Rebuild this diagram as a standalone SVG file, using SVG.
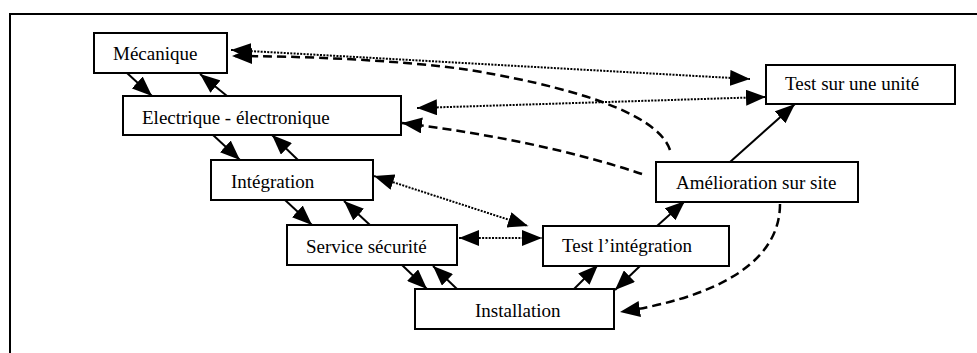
<svg xmlns="http://www.w3.org/2000/svg" width="977" height="353" viewBox="0 0 977 353">
<style>
.box{fill:#fff;stroke:#000;stroke-width:2}
.lbl{font-family:'Liberation Serif','Times New Roman',serif;font-size:19px;fill:#000}
.solid{fill:none;stroke:#000;stroke-width:2}
.dot{fill:none;stroke:#000;stroke-width:2;stroke-dasharray:2 1.3}
.dash{fill:none;stroke:#000;stroke-width:2.5;stroke-dasharray:9 5}
</style>
<defs>
<marker id="ah" markerUnits="userSpaceOnUse" markerWidth="21" markerHeight="16" refX="20" refY="8" orient="auto-start-reverse">
<path d="M0,0 L20,8 L0,16 z" fill="#000"/>
</marker>
</defs>
<rect width="977" height="353" fill="#fff"/>
<path d="M10,353 L10,14 L977,14" fill="none" stroke="#000" stroke-width="2"/>

<g id="connectors">
<path class="solid" d="M127,73 L152,96" marker-end="url(#ah)"/>
<path class="solid" d="M227,96 L200,74" marker-end="url(#ah)"/>
<path class="solid" d="M213,135 L240,160" marker-end="url(#ah)"/>
<path class="solid" d="M298,160 L272,135" marker-end="url(#ah)"/>
<path class="solid" d="M285,200 L312,225" marker-end="url(#ah)"/>
<path class="solid" d="M370,225 L344,201" marker-end="url(#ah)"/>
<path class="solid" d="M402,265 L427,289" marker-end="url(#ah)"/>
<path class="solid" d="M457,289 L433,266" marker-end="url(#ah)"/>
<path class="solid" d="M573,290 L598,265" marker-end="url(#ah)"/>
<path class="solid" d="M640,266 L615,290" marker-end="url(#ah)"/>
<path class="solid" d="M657,226 L685,201" marker-end="url(#ah)"/>
<path class="solid" d="M730,162 L795,104" marker-end="url(#ah)"/>
<path class="dot" d="M231,50 L750,79" marker-start="url(#ah)" marker-end="url(#ah)"/>
<path class="dot" d="M417,108 L766,97" marker-start="url(#ah)" marker-end="url(#ah)"/>
<path class="dot" d="M374,176 L528,226" marker-start="url(#ah)" marker-end="url(#ah)"/>
<path class="dot" d="M459,238 L542,238" marker-start="url(#ah)" marker-end="url(#ah)"/>
<path class="dash" d="M670,150 C660,120 600,92 470,70 C400,60 300,56 232,56" marker-end="url(#ah)"/>
<path class="dash" d="M642,174 Q540,140 402,123" marker-end="url(#ah)"/>
<path class="dash" d="M780,204 C780,270 700,300 620,312" marker-end="url(#ah)"/>
</g>

<g id="mecanique">
<rect class="box" x="94" y="33" width="133" height="40"/>
<text class="lbl" x="113" y="60">Mécanique</text>
</g>
<g id="electrique">
<rect class="box" x="123" y="96" width="278" height="39"/>
<text class="lbl" x="142" y="124">Electrique - électronique</text>
</g>
<g id="integration">
<rect class="box" x="211" y="160" width="162" height="40"/>
<text class="lbl" x="231" y="188">Intégration</text>
</g>
<g id="service">
<rect class="box" x="287" y="225" width="170" height="40"/>
<text class="lbl" x="306" y="253">Service sécurité</text>
</g>
<g id="installation">
<rect class="box" x="415" y="289" width="199" height="40"/>
<text class="lbl" x="475" y="317">Installation</text>
</g>
<g id="test-integration">
<rect class="box" x="543" y="226" width="186" height="40"/>
<text class="lbl" x="562" y="252">Test l’intégration</text>
</g>
<g id="amelioration">
<rect class="box" x="656" y="162" width="202" height="40"/>
<text class="lbl" x="676" y="189">Amélioration sur site</text>
</g>
<g id="test-unite">
<rect class="box" x="766" y="65" width="189" height="39"/>
<text class="lbl" x="785" y="90">Test sur une unité</text>
</g>
</svg>
